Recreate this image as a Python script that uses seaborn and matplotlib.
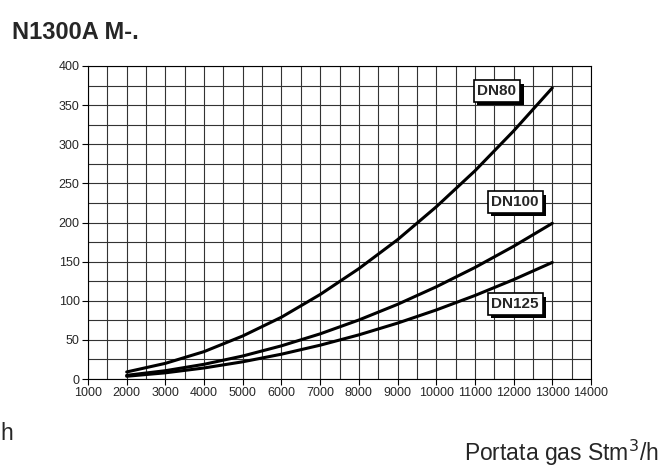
import matplotlib
matplotlib.use("Agg")
import matplotlib.pyplot as plt
import matplotlib.patheffects as pe
import seaborn as sns
import pandas as pd
import numpy as np

flow = [2000, 3000, 4000, 5000, 6000, 7000, 8000, 9000, 10000, 11000, 12000, 13000]
dn80 = [9, 20, 35, 55, 79, 108, 141, 178, 220, 266, 317, 372]
dn100 = [4.7, 10.6, 18.8, 29.4, 42.4, 57.7, 75.4, 95.4, 117.8, 142.5, 169.6, 199]
dn125 = [3.5, 7.9, 14.1, 22.0, 31.7, 43.2, 56.4, 71.4, 88.2, 106.7, 127, 149]
series_names = ["DN80", "DN100", "DN125"]
label_pos = {"DN80": (11570, 368), "DN100": (12040, 226), "DN125": (12040, 96)}
xticks = list(range(1000, 14001, 1000))
yticks = list(range(0, 401, 50))

df = pd.DataFrame({
    "flow": flow * 3,
    "dp": dn80 + dn100 + dn125,
    "serie": sum([[n] * len(flow) for n in series_names], []),
})

sns.set_style("white")
plt.rcParams["font.family"] = ["Liberation Sans", "DejaVu Sans"]

fig = plt.figure(figsize=(6.61, 4.68), dpi=100)
ax = fig.add_axes([88 / 661, 1 - 379 / 468, (591 - 88) / 661, (379 - 66) / 468])

sns.lineplot(data=df, x="flow", y="dp", units="serie", estimator=None,
             color="black", linewidth=2.2, ax=ax, legend=False)

ax.set_xlim(1000, 14000)
ax.set_ylim(0, 400)
ax.set_xticks(xticks)
ax.set_yticks(yticks)
ax.set_xticks(np.arange(1000, 14001, 500), minor=True)
ax.set_yticks(np.arange(0, 401, 25), minor=True)
ax.grid(True, which="both", color="#333333", linewidth=0.8)
ax.set_axisbelow(True)
ax.tick_params(axis="both", which="major", labelsize=9, length=4, width=0.8,
               color="black", direction="out", pad=2)
ax.tick_params(axis="both", which="minor", length=0)
ax.tick_params(axis="x", bottom=True)
ax.tick_params(axis="y", left=True)
ax.set_xlabel("")
ax.set_ylabel("")
for s in ax.spines.values():
    s.set_color("black")
    s.set_linewidth(0.8)

for name in series_names:
    x, y = label_pos[name]
    t = ax.text(x, y, name, fontsize=11, fontweight="bold", ha="center", va="center",
                bbox=dict(boxstyle="square,pad=0.25", fc="white", ec="black", lw=1.2),
                zorder=5)
    t.get_bbox_patch().set_path_effects([
        pe.withSimplePatchShadow(offset=(2.5, -2.5), shadow_rgbFace="black", alpha=1.0)
    ])

fig.text(12 / 661, 1 - 39 / 468, "N1300A M-.", fontsize=17, fontweight="bold",
         ha="left", va="baseline")
fig.text(659 / 661, 1 - 461 / 468, "Portata gas Stm$^3$/h", fontsize=16.5,
         ha="right", va="baseline")
fig.text(0.5 / 661, 1 - 440 / 468, "h", fontsize=16.5, ha="left", va="baseline")

fig.savefig("out.png", dpi=100)
